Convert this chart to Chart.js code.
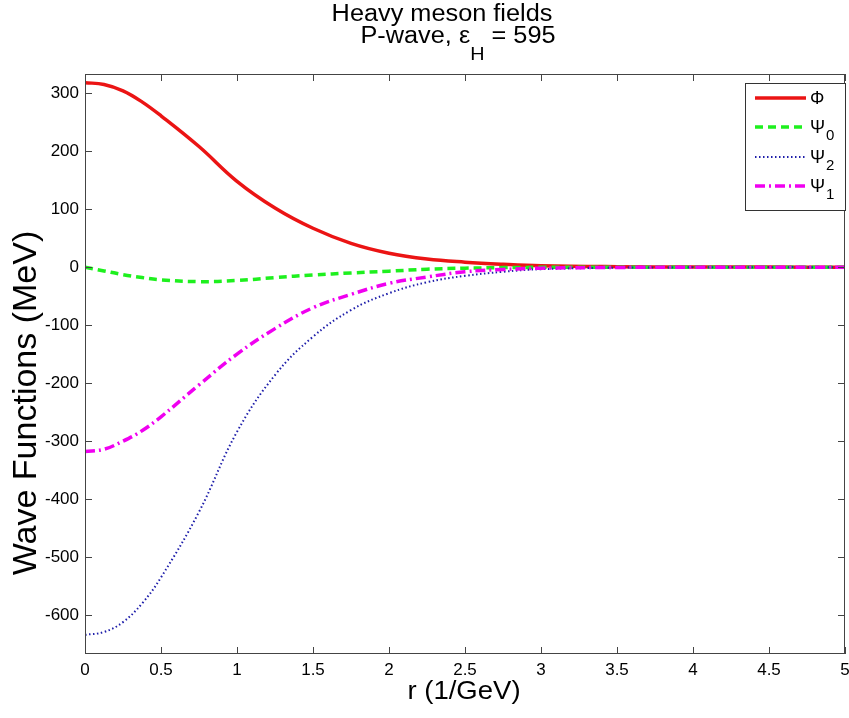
<!DOCTYPE html>
<html>
<head>
<meta charset="utf-8">
<script src="https://cdn.jsdelivr.net/npm/chart.js@4"></script>
<style>
  body { margin: 0; background: #fff; }
</style>
</head>
<body>
<canvas id="waveChart" width="849" height="718"></canvas>
<script>
const rValues = [0, 0.125, 0.25, 0.375, 0.5, 0.75, 1, 1.25, 1.5, 1.75, 2, 2.25, 2.5, 2.75, 3, 3.5, 4, 4.5, 5];
const phi  = [318, 315, 304, 285, 261, 208, 148, 102, 67, 41, 24, 14, 8.6, 5, 2.5, 0.8, 0.2, 0.05, 0];
const psi0 = [0, -6.5, -13, -18, -22, -25, -23, -18, -13.5, -10, -7, -3.5, -1.8, -0.8, -0.3, -0.1, 0, 0, 0];
const psi2 = [-634, -629, -612, -580, -535, -422, -284, -186, -120, -74, -45, -26, -15, -8, -3.5, -1, -0.3, 0, 0];
const psi1 = [-318, -314, -300, -282, -258, -203, -150, -106, -70, -47, -28, -17, -8, -4, -1.8, -0.5, -0.1, 0, 0];

const xTicks = [0, 0.5, 1, 1.5, 2, 2.5, 3, 3.5, 4, 4.5, 5];
const yTicks = [-600, -500, -400, -300, -200, -100, 0, 100, 200, 300];

const FONT = '"Liberation Sans", Arial, sans-serif';

function pts(ys) {
    return rValues.map((r, i) => ({ x: r, y: ys[i] }));
}

// legend entries: main symbol + subscript
const legendItems = [
    { sym: 'Φ', sub: '' },
    { sym: 'Ψ', sub: '0' },
    { sym: 'Ψ', sub: '2' },
    { sym: 'Ψ', sub: '1' }
];

const matlabLook = {
    id: 'matlabLook',
    afterDraw(chart) {
        const ctx = chart.ctx;
        const a = chart.chartArea;
        const xs = chart.scales.x, ys = chart.scales.y;
        ctx.save();

        // box + inner ticks
        ctx.strokeStyle = '#444';
        ctx.lineWidth = 1;
        ctx.strokeRect(a.left + 0.5, a.top + 0.5, a.right - a.left - 1, a.bottom - a.top - 1);
        ctx.beginPath();
        xTicks.forEach(v => {
            const px = Math.round(xs.getPixelForValue(v)) + 0.5;
            ctx.moveTo(px, a.bottom); ctx.lineTo(px, a.bottom - 7);
            ctx.moveTo(px, a.top); ctx.lineTo(px, a.top + 7);
        });
        yTicks.forEach(v => {
            const py = Math.round(ys.getPixelForValue(v)) + 0.5;
            ctx.moveTo(a.left, py); ctx.lineTo(a.left + 7, py);
            ctx.moveTo(a.right, py); ctx.lineTo(a.right - 7, py);
        });
        ctx.stroke();

        // legend
        const lx = 745, ly = 83, lw = 100, lh = 127;
        ctx.fillStyle = '#fff';
        ctx.fillRect(lx, ly, lw, lh);
        ctx.strokeStyle = '#333';
        ctx.strokeRect(lx + 0.5, ly + 0.5, lw, lh);
        const rows = [98, 127, 157, 186];
        chart.data.datasets.forEach((ds, i) => {
            const y = rows[i];
            ctx.beginPath();
            ctx.strokeStyle = ds.borderColor;
            ctx.lineWidth = ds.borderWidth;
            ctx.setLineDash(ds.borderDash || []);
            ctx.moveTo(755, y); ctx.lineTo(806, y);
            ctx.stroke();
            ctx.setLineDash([]);
            ctx.fillStyle = '#000';
            ctx.textAlign = 'left';
            ctx.textBaseline = 'alphabetic';
            ctx.font = '18px ' + FONT;
            ctx.fillText(legendItems[i].sym, 810, y + 6);
            if (legendItems[i].sub) {
                const w = ctx.measureText(legendItems[i].sym).width;
                ctx.font = '15px ' + FONT;
                ctx.fillText(legendItems[i].sub, 810 + w + 1, y + 13);
            }
        });

        // title
        ctx.fillStyle = '#000';
        ctx.textBaseline = 'alphabetic';
        ctx.save();
        ctx.translate(442, 21);
        ctx.scale(1.1, 1);
        ctx.textAlign = 'center';
        ctx.font = '23px ' + FONT;
        ctx.fillText('Heavy meson fields', 0, 0);
        ctx.restore();

        ctx.save();
        ctx.font = '23px ' + FONT;
        const p1 = 'P-wave, ε', p3 = ' = 595';
        const w1 = ctx.measureText(p1).width, w3 = ctx.measureText(p3).width;
        ctx.font = '18px ' + FONT;
        const w2 = ctx.measureText('H').width;
        const tot = (w1 + w2 + w3) * 1.1;
        ctx.translate(458 - tot / 2, 43);
        ctx.scale(1.1, 1);
        ctx.textAlign = 'left';
        ctx.font = '23px ' + FONT;
        ctx.fillText(p1, 0, 0);
        ctx.font = '18px ' + FONT;
        ctx.fillText('H', w1, 17);
        ctx.font = '23px ' + FONT;
        ctx.fillText(p3, w1 + w2, 0);
        ctx.restore();

        // axis labels
        ctx.save();
        ctx.translate(464, 699);
        ctx.scale(1.1, 1);
        ctx.textAlign = 'center';
        ctx.font = '25px ' + FONT;
        ctx.fillText('r (1/GeV)', 0, 0);
        ctx.restore();

        ctx.save();
        ctx.translate(36, 403);
        ctx.rotate(-Math.PI / 2);
        ctx.textAlign = 'center';
        ctx.font = '34px ' + FONT;
        ctx.fillText('Wave Functions (MeV)', 0, 0);
        ctx.restore();

        ctx.restore();
    }
};

new Chart(document.getElementById('waveChart'), {
    type: 'line',
    data: {
        datasets: [{
            label: 'Φ',
            data: pts(phi),
            borderColor: 'rgb(235,20,20)',
            borderWidth: 3.5,
            order: 4
        }, {
            label: 'Ψ0',
            data: pts(psi0),
            borderColor: 'rgb(30,240,30)',
            borderWidth: 3.5,
            borderDash: [8, 5],
            order: 3
        }, {
            label: 'Ψ2',
            data: pts(psi2),
            borderColor: 'rgb(30,30,170)',
            borderWidth: 2,
            borderDash: [1.5, 2.5],
            order: 2
        }, {
            label: 'Ψ1',
            data: pts(psi1),
            borderColor: 'rgb(240,0,240)',
            borderWidth: 3.5,
            borderDash: [10, 4, 2, 4],
            order: 1
        }]
    },
    options: {
        responsive: false,
        animation: false,
        events: [],
        layout: { padding: { left: 0, right: 4, top: 74, bottom: 0 } },
        elements: {
            point: { radius: 0 },
            line: { tension: 0.4, fill: false }
        },
        plugins: {
            legend: { display: false },
            title: { display: false },
            tooltip: { enabled: false }
        },
        scales: {
            x: {
                type: 'linear',
                min: 0,
                max: 5,
                afterFit: s => { s.height = 64; s.paddingLeft = 0; s.paddingRight = 0; },
                afterBuildTicks: s => { s.ticks = xTicks.map(v => ({ value: v })); },
                grid: { display: false, drawTicks: false },
                border: { display: false },
                ticks: {
                    color: '#000', padding: 6, maxRotation: 0, autoSkip: false,
                    font: { family: FONT, size: 17 },
                    callback: v => String(v)
                }
            },
            y: {
                min: -667,
                max: 333,
                afterFit: s => { s.width = 85; s.paddingTop = 0; s.paddingBottom = 0; },
                afterBuildTicks: s => { s.ticks = yTicks.map(v => ({ value: v })); },
                grid: { display: false, drawTicks: false },
                border: { display: false },
                ticks: {
                    color: '#000', padding: 6,
                    font: { family: FONT, size: 17 },
                    callback: v => String(v)
                }
            }
        }
    },
    plugins: [matlabLook]
});
</script>
</body>
</html>
